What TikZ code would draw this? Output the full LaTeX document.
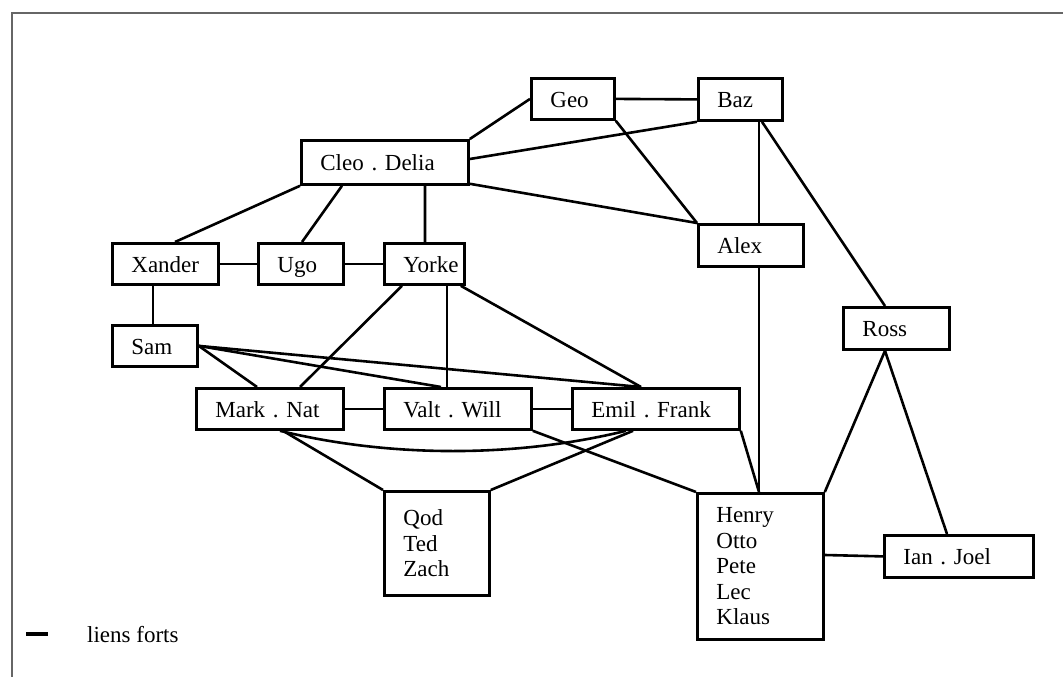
\documentclass[tikz,border=0pt]{standalone}
\usepackage{fontspec}
\setmainfont{Liberation Serif}
\usetikzlibrary{calc}
\tikzset{
  box/.style 2 args={draw, line width=2.8bp, anchor=north west, inner xsep=19bp, inner ysep=0bp,
    align=left, minimum width=#1bp, text width=#1bp-38bp, minimum height=#2bp,
    font=\fontsize{23bp}{25.5bp}\selectfont\frenchspacing},
  one/.style={text height=21bp, text depth=4bp},
  edge/.style={line width=2.6bp},
  frame/.style={line width=2bp, draw=black!60},
  legend/.style={font=\fontsize{23bp}{25.5bp}\selectfont, anchor=base west, inner sep=0pt}
}
\begin{document}
\begin{tikzpicture}[x=1bp, y=-1bp]
\useasboundingbox (0,0) rectangle (1063,677);
% frame
\coordinate (fa) at (12,677);
\coordinate (fb) at (12,13);
\coordinate (fc) at (1063,13);
\draw[frame] (fa) -- (fb) -- (fc);
% nodes
\node[box={83}{41},one]  (geo)   at (530,77)  {Geo};
\node[box={84}{42},one]  (baz)   at (697,77)  {Baz};
\node[box={167}{44},one] (cleo)  at (300,139) {Cleo . Delia};
\node[box={105}{42},one] (alex)  at (697,223) {Alex};
\node[box={106}{41},one] (xander) at (111,242) {Xander};
\node[box={85}{41},one]  (ugo)   at (257,242) {Ugo};
\node[box={80}{41},one]  (yorke) at (383,242) {Yorke};
\node[box={85}{41},one]  (sam)   at (111,324) {Sam};
\node[box={147}{41},one] (mark)  at (195,387) {Mark . Nat};
\node[box={147}{41},one] (valt)  at (383,387) {Valt . Will};
\node[box={167}{41},one] (emil)  at (571,387) {Emil . Frank};
\node[box={106}{42},one] (ross)  at (842,306) {Ross};
\node[box={126}{146}] (henry) at (696,492) {Henry\\Otto\\Pete\\Lec\\Klaus};
\node[box={105}{104}] (qod)  at (383,490) {Qod\\Ted\\Zach};
\node[box={149}{42},one] (ian)   at (883,534) {Ian . Joel};
% edges
\draw[edge] (cleo.north east) -- (geo.west);
\draw[edge] ([yshift=-20bp]cleo.north east) -- (baz.south west);
\draw[edge] ([yshift=2bp]cleo.south east) -- (alex.north west);
\draw[edge] (geo.south east) -- (alex.north west);
\draw[edge] (geo.east) -- (baz.west);
\draw[edge] ([xshift=62bp]baz.south west) -- ([xshift=62bp]alex.north west);
\draw[edge] ([xshift=65bp]baz.south west) -- ([xshift=43bp]ross.north west);
\draw[edge] ([xshift=62bp]alex.south west) -- ([xshift=63bp]henry.north west);
\draw[edge] ([xshift=43bp]ross.south west) -- (henry.north east);
\draw[edge] ([xshift=43bp]ross.south west) -- ([xshift=64bp]ian.north west);
\draw[edge] ([yshift=-63bp]henry.north east) -- (ian.west);
\draw[edge] (emil.south east) -- ([xshift=63bp]henry.north west);
\draw[edge] (valt.south east) -- (henry.north west);
\draw[edge] (cleo.south west) -- ([xshift=64bp]xander.north west);
\draw[edge] ([xshift=42bp]cleo.south west) -- ([xshift=45bp]ugo.north west);
\draw[edge] ([xshift=125bp]cleo.south west) -- ([xshift=42bp]yorke.north west);
\draw[edge] (xander.east) -- (ugo.west);
\draw[edge] (ugo.east) -- (yorke.west);
\draw[edge] ([xshift=42bp]xander.south west) -- ([xshift=42bp]sam.north west);
\draw[edge] (sam.east) -- ([xshift=62bp]mark.north west);
\draw[edge] (sam.east) -- ([xshift=58bp]valt.north west);
\draw[edge] (sam.east) -- ([xshift=70bp]emil.north west);
\draw[edge] ([xshift=19bp]yorke.south west) -- ([xshift=105bp]mark.north west);
\draw[edge] ([xshift=64bp]yorke.south west) -- ([xshift=64bp]valt.north west);
\draw[edge] ([xshift=-5bp]yorke.south east) -- ([xshift=70bp]emil.north west);
\draw[edge] (mark.east) -- (valt.west);
\draw[edge] (valt.east) -- (emil.west);
\draw[edge] ([xshift=88bp]mark.south west) -- (qod.north west);
\draw[edge] ([xshift=62bp]emil.south west) -- (qod.north east);
\draw[edge] ([xshift=85bp]mark.south west) .. controls +(110,27) and +(-110,27) .. ([xshift=55bp]emil.south west);
% legend
\coordinate (la) at (26,634);
\coordinate (lb) at (48,634);
\draw[line width=3.5bp] (la) -- (lb);
\node[legend] (lt) at (87,642) {liens forts};
\end{tikzpicture}
\end{document}
